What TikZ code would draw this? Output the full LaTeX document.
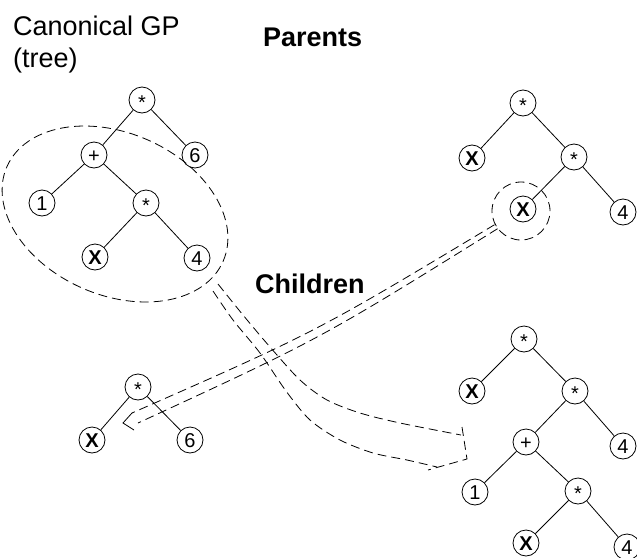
\documentclass[tikz,border=0pt]{standalone}
\usepackage{fontspec}
\setmainfont{Liberation Sans}
\usetikzlibrary{shapes.geometric}

\newcommand\gpfont{\fontsize{20}{20}\selectfont}
\newcommand\bigfont{\fontsize{27}{32}\selectfont}
\newcommand\mul{\raisebox{-2.5pt}{*}}

\tikzset{
  gp/.style={circle, draw, line width=0.8pt, minimum size=26pt, inner sep=0pt,
    font=\gpfont, text height=14.3pt, text depth=0pt},
  gpx/.style={gp, font=\gpfont\bfseries},
  sel/.style={draw, line width=0.8pt, dash pattern=on 9pt off 5pt, inner sep=0pt},
  band/.style={line width=0.8pt, dash pattern=on 9pt off 5pt},
  title/.style={font=\bigfont, inner sep=0pt},
  head/.style={font=\bigfont\bfseries, inner sep=0pt},
}

\begin{document}
\begin{tikzpicture}[x=1pt,y=-1pt]
  \useasboundingbox (0,0) rectangle (637,557);

  %labels
  \node[title, align=left, anchor=north west] (canon) at (13,15.5) {Canonical GP\\(tree)};
  \node[head, anchor=base west] (parents) at (263,46) {Parents};
  \node[head, anchor=base west] (children) at (255,293) {Children};

  %canonical tree
  \node[gp]  (r1) at (142,100) {\mul};
  \node[gp]  (p1) at (94,155)  {+};
  \node[gp]  (s1) at (195,155) {6};
  \node[gp]  (o1) at (42,203)  {1};
  \node[gp]  (m1) at (146,203) {\mul};
  \node[gpx] (x1) at (95,257)  {X};
  \node[gp]  (f1) at (197,258) {4};

  \draw[line width=0.8pt] (r1) -- (p1);
  \draw[line width=0.8pt] (r1) -- (s1);
  \draw[line width=0.8pt] (p1) -- (o1);
  \draw[line width=0.8pt] (p1) -- (m1);
  \draw[line width=0.8pt] (m1) -- (x1);
  \draw[line width=0.8pt] (m1) -- (f1);

  %selected subtree
  \node[sel, ellipse, minimum width=236pt, minimum height=162pt, rotate=-23.6] (subtree) at (115,214) {};

  %second parent
  \node[gp]  (r2) at (523,103) {\mul};
  \node[gpx] (x2) at (472,158) {X};
  \node[gp]  (m2) at (574,157) {\mul};
  \node[gpx] (x3) at (523,209) {X};
  \node[gp]  (f2) at (623,212) {4};

  \draw[line width=0.8pt] (r2) -- (x2);
  \draw[line width=0.8pt] (r2) -- (m2);
  \draw[line width=0.8pt] (m2) -- (x3);
  \draw[line width=0.8pt] (m2) -- (f2);

  \node[sel, circle, minimum size=58pt] (pick) at (521,211) {};

  %first child
  \node[gp]  (r4) at (138,387) {\mul};
  \node[gpx] (x6) at (92,440)  {X};
  \node[gp]  (s4) at (190,440) {6};

  \draw[line width=0.8pt] (r4) -- (x6);
  \draw[line width=0.8pt] (r4) -- (s4);

  %second child
  \node[gp]  (r3) at (524,339) {\mul};
  \node[gpx] (x4) at (472,391) {X};
  \node[gp]  (m3) at (575,391) {\mul};
  \node[gp]  (p3) at (526,442) {+};
  \node[gp]  (f3) at (623,446) {4};
  \node[gp]  (o3) at (475,492) {1};
  \node[gp]  (m4) at (578,491) {\mul};
  \node[gpx] (x5) at (526,543) {X};
  \node[gp]  (f4) at (627,547) {4};

  \draw[line width=0.8pt] (r3) -- (x4);
  \draw[line width=0.8pt] (r3) -- (m3);
  \draw[line width=0.8pt] (m3) -- (p3);
  \draw[line width=0.8pt] (m3) -- (f3);
  \draw[line width=0.8pt] (p3) -- (o3);
  \draw[line width=0.8pt] (p3) -- (m4);
  \draw[line width=0.8pt] (m4) -- (x5);
  \draw[line width=0.8pt] (m4) -- (f4);

  %swap arrows
  %X into first child
  \coordinate (a1u) at (132,413);
  \coordinate (a1l) at (138,423);
  \coordinate (a1t) at (123,423);
  \coordinate (a1b) at (134,430);
  \draw[band] (pick.210) ++(-1,-1) .. controls (316,332) .. (a1u);
  \draw[band] (pick.210) ++(2,3) .. controls (320,339) .. (a1l);
  \draw[line width=0.8pt] (a1u) -- (a1t) -- (a1b);

  %subtree into second child
  \coordinate (a2a) at (462,427);
  \coordinate (a2t) at (467,459);
  \coordinate (a2c) at (428,470);
  \draw[band] plot[smooth] coordinates {(218,284) (243,315) (270,347) (300,380) (327,400) (360,413) (400,423) (461,435)};
  \draw[band] plot[smooth] coordinates {(213,291) (233,320) (260,353) (286,391) (310,420) (340,440) (373,453) (407,460) (437,467)};
  \draw[band] (a2a) -- (a2t) -- (a2c);
\end{tikzpicture}
\end{document}
